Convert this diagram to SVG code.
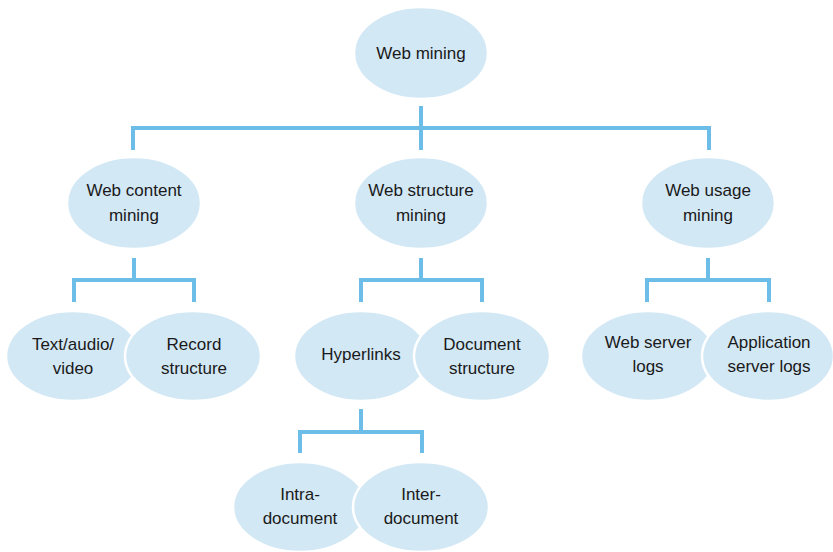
<svg xmlns="http://www.w3.org/2000/svg" width="833" height="552" viewBox="0 0 833 552">
<style>
.n{fill:#d3e8f5;stroke:#ffffff;stroke-width:2.5}
.c{fill:none;stroke:#6cbee8;stroke-width:4;stroke-linejoin:miter}
text{font-family:"Liberation Sans",Arial,sans-serif;font-size:17px;fill:#1a1a1a;text-anchor:middle}
</style>
<rect width="833" height="552" fill="#ffffff"/>
<g id="connectors">
<path class="c" d="M421 106V128M133 150V128H709V150M421 128V150"/>
<path class="c" d="M134 258V280M74 302V280H194V302"/>
<path class="c" d="M421 258V280M361 302V280H482V302"/>
<path class="c" d="M708 258V280M647 302V280H769V302"/>
<path class="c" d="M361 409V432M300 453V432H422V453"/>
</g>
<g id="web-mining"><ellipse class="n" cx="421" cy="53" rx="67" ry="46"/><text x="421" y="59">Web mining</text></g>
<g id="web-content-mining"><ellipse class="n" cx="134" cy="203" rx="67" ry="46"/><text x="134" y="196">Web content</text><text x="134" y="221">mining</text></g>
<g id="web-structure-mining"><ellipse class="n" cx="421" cy="203" rx="67" ry="46"/><text x="421" y="196">Web structure</text><text x="421" y="221">mining</text></g>
<g id="web-usage-mining"><ellipse class="n" cx="708" cy="203" rx="67" ry="46"/><text x="708" y="196">Web usage</text><text x="708" y="221">mining</text></g>
<g id="text-audio-video"><ellipse class="n" cx="73" cy="356" rx="67" ry="45"/><text x="73" y="350">Text/audio/</text><text x="73" y="374">video</text></g>
<g id="record-structure"><ellipse class="n" cx="193" cy="356" rx="68" ry="45"/><text x="194" y="350">Record</text><text x="194" y="374">structure</text></g>
<g id="hyperlinks"><ellipse class="n" cx="361" cy="356" rx="67" ry="45"/><text x="361" y="360">Hyperlinks</text></g>
<g id="document-structure"><ellipse class="n" cx="482" cy="356" rx="68" ry="45"/><text x="482" y="350">Document</text><text x="482" y="374">structure</text></g>
<g id="web-server-logs"><ellipse class="n" cx="648" cy="356" rx="67" ry="45"/><text x="648" y="348">Web server</text><text x="648" y="372">logs</text></g>
<g id="application-server-logs"><ellipse class="n" cx="768" cy="356" rx="66" ry="45"/><text x="769" y="348">Application</text><text x="769" y="372">server logs</text></g>
<g id="intra-document"><ellipse class="n" cx="300" cy="507" rx="67" ry="45"/><text x="300" y="500">Intra-</text><text x="300" y="524">document</text></g>
<g id="inter-document"><ellipse class="n" cx="421" cy="507" rx="68" ry="45"/><text x="421" y="500">Inter-</text><text x="421" y="524">document</text></g>
</svg>
